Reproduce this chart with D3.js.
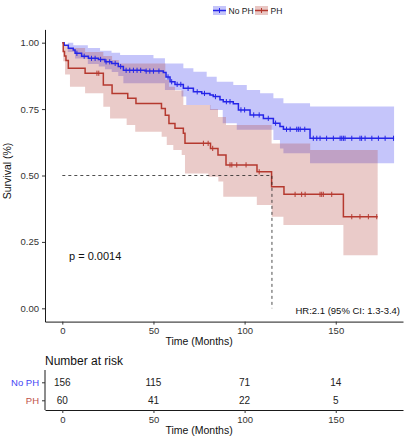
<!DOCTYPE html>
<html><head><meta charset="utf-8">
<script src="https://cdn.jsdelivr.net/npm/d3@7"></script>
<style>html,body{margin:0;padding:0;background:#fff;}svg{display:block;font-family:"Liberation Sans",Arial,sans-serif;}</style>
</head><body>
<svg id="c" width="408" height="440"></svg>
<script>
// ---------- data ----------
const groups = ["No PH", "PH"];
// No PH Kaplan-Meier steps
const noPhTime = [0,1,3.3,6,7,10.6,14.3,19.8,23.4,27.1,30.7,33.5,45.4,55.4,56.9,59.1,61.8,66.4,71.9,76.5,81,82.8,86.5,88.3,93.8,96.6,103,110.3,115.8,119.4,121.3,135.9];
const noPhSurv = [1,0.99,0.979,0.972,0.96,0.949,0.941,0.937,0.928,0.922,0.91,0.896,0.893,0.888,0.871,0.853,0.843,0.828,0.815,0.809,0.803,0.797,0.785,0.778,0.77,0.747,0.728,0.715,0.697,0.684,0.674,0.64];
const noPhEnd = 182;
const noPhCensor = [8,12,16,18,21,24,26,29,32,35,37,39,41,43,46,48,50,53,58,60,63,65,69,74,78,84,90,92,98,100,105,108,113,117,123,125,128.6,129.5,130.5,133,137.7,139.6,141.4,145,148.7,152.4,153.3,154.2,155.1,158.8,163.3,164.2,166.1,169.8,173.4,177.1,181.7];
const noPhUpperTime = [0,6,14,20.7,27,31.7,50,56.3,66.4,71.9,79.2,84.7,93.8,101.2,108.5,115.8,121.3,135.9];
const noPhUpper     = [1,0.99,0.98,0.97,0.962,0.954,0.941,0.922,0.904,0.891,0.872,0.853,0.841,0.822,0.81,0.791,0.772,0.76];
const noPhLowerTime = [0,3,7,14,20,23.4,27.1,30.7,33.5,56.3,65.4,68,81,88,95.7,115.8,119.4,121.3,135.9];
const noPhLower     = [1,0.965,0.94,0.92,0.91,0.9,0.89,0.875,0.847,0.822,0.797,0.765,0.747,0.697,0.672,0.634,0.602,0.584,0.546];

// PH Kaplan-Meier steps
const phTime = [0,0.5,1.2,2,3.3,12.5,22.5,27.3,35.9,40.4,54.4,56.5,58.5,61.8,66.4,67.3,81.3,85.4,89.8,106.8,114.8,121.6,154.2];
const phSurv = [1,0.967,0.95,0.933,0.904,0.885,0.841,0.809,0.791,0.771,0.752,0.727,0.696,0.678,0.659,0.621,0.602,0.577,0.54,0.514,0.458,0.429,0.345];
const phEnd = 173;
const phCensor = [19,20,77.4,80,82.5,92,93,95.7,100.8,108,127.7,131.3,133.2,141.4,142.3,143.2,147.8,158.8,163.3,167.9,172.5];
const phUpperTime = [0,1.5,3.3,12.5,22.5,27.3,31,56.5,58.5,61.8,66.4,81.3,85.4,89.8,114.8,136];
const phUpper     = [1,0.99,0.98,0.965,0.95,0.935,0.922,0.86,0.834,0.82,0.765,0.75,0.72,0.69,0.62,0.596];
const phLowerTime = [0,0.5,1.5,4.2,12.5,22.5,26.2,35.3,40,54.5,57.3,60.9,65.5,67.3,80.1,85.6,88.3,106.7,114.9,121.3,154.2];
const phLower     = [1,0.93,0.88,0.834,0.81,0.759,0.715,0.69,0.665,0.646,0.615,0.596,0.577,0.508,0.495,0.477,0.42,0.389,0.345,0.314,0.2];

const medianTime = 115;
const xTicks = [0,50,100,150];
const yTicks = [0,0.25,0.5,0.75,1];
const riskNoPh = [156,115,71,14];
const riskPh = [60,41,22,5];
const pText = "p = 0.0014";
const hrText = "HR:2.1 (95% CI: 1.3-3.4)";

// ---------- styles ----------
const blue = "#2525e8", red = "#b5392f";
const blueFill = "#4040f0", redFill = "#b5453c";

const svg = d3.select("#c");
const x = d3.scaleLinear().domain([-9.5,186.9]).range([45,403]);
const y = d3.scaleLinear().domain([-0.05,1.05]).range([321.6,29.4]);

function stepVal(ts, vs, t){ let v = vs[0]; for(let i=0;i<ts.length;i++){ if(ts[i]<=t) v=vs[i]; } return v; }
function bandData(ut,uv,lt,lv,end){
  const ts = Array.from(new Set([...ut,...lt,end])).sort((a,b)=>a-b);
  return ts.map(t=>({t, hi:stepVal(ut,uv,t), lo:stepVal(lt,lv,t)}));
}
const area = d3.area().curve(d3.curveStepAfter).x(d=>x(d.t)).y0(d=>y(d.lo)).y1(d=>y(d.hi));
const line = d3.line().curve(d3.curveStepAfter).x(d=>x(d[0])).y(d=>y(d[1]));

const bandNo = bandData(noPhUpperTime,noPhUpper,noPhLowerTime,noPhLower,noPhEnd);
const bandPh = bandData(phUpperTime,phUpper,phLowerTime,phLower,phEnd);
svg.append("path").attr("d",area(bandNo)).attr("fill",blueFill).attr("fill-opacity",0.3);
svg.append("path").attr("d",area(bandPh)).attr("fill",redFill).attr("fill-opacity",0.28);

function drawCurve(ts, vs, end, cens, col){
  const pts = ts.map((t,i)=>[t,vs[i]]); pts.push([end, vs[vs.length-1]]);
  svg.append("path").attr("d",line(pts)).attr("fill","none").attr("stroke",col).attr("stroke-width",1.5);
  svg.append("g").selectAll("line").data(cens).join("line")
    .attr("x1",d=>x(d)).attr("x2",d=>x(d))
    .attr("y1",d=>y(stepVal(ts,vs,d))-2.6).attr("y2",d=>y(stepVal(ts,vs,d))+2.6)
    .attr("stroke",col).attr("stroke-width",1);
}
drawCurve(noPhTime,noPhSurv,noPhEnd,noPhCensor,blue);
drawCurve(phTime,phSurv,phEnd,phCensor,red);

// median lines
svg.append("path").attr("d",`M${x(0)},${y(0.5)}H${x(medianTime)}V${y(0)}`)
  .attr("fill","none").attr("stroke","#222").attr("stroke-width",0.8).attr("stroke-dasharray","3,3");

// axes
const gy = svg.append("g").attr("transform","translate(45,0)")
  .call(d3.axisLeft(y).tickValues(yTicks).tickFormat(d3.format(".2f")).tickSize(3).tickSizeOuter(0));
const gx = svg.append("g").attr("transform","translate(0,321.6)")
  .call(d3.axisBottom(x).tickValues(xTicks).tickSize(3).tickSizeOuter(0));
[gx,gy].forEach(g=>{
  g.select(".domain").attr("stroke","#000").attr("stroke-width",0.9);
  g.selectAll(".tick line").attr("stroke","#333");
  g.selectAll(".tick text").attr("fill","#333").attr("font-size",9.5).attr("font-family","Liberation Sans,Arial,sans-serif");
});
svg.append("text").attr("x",x(75)).attr("y",345).attr("text-anchor","middle").attr("font-size",10.5).attr("fill","#111").text("Time (Months)");
svg.append("text").attr("transform","translate(11,171) rotate(-90)").attr("text-anchor","middle").attr("font-size",10.5).attr("fill","#111").text("Survival (%)");

svg.append("text").attr("x",69).attr("y",260).attr("font-size",11).attr("fill","#111").text(pText);
svg.append("text").attr("x",400).attr("y",314).attr("text-anchor","end").attr("font-size",9.5).attr("fill","#111").text(hrText);

// legend
const legCols = [blue, red], legFills = [blueFill, redFill], legX = [213, 255];
groups.forEach((g,i)=>{
  const lx = legX[i];
  svg.append("rect").attr("x",lx).attr("y",6).attr("width",13).attr("height",9).attr("fill",legFills[i]).attr("fill-opacity",0.3);
  svg.append("line").attr("x1",lx).attr("x2",lx+13).attr("y1",10.5).attr("y2",10.5).attr("stroke",legCols[i]).attr("stroke-width",1.5);
  svg.append("line").attr("x1",lx+6.5).attr("x2",lx+6.5).attr("y1",8).attr("y2",13).attr("stroke",legCols[i]).attr("stroke-width",1);
  svg.append("text").attr("x",lx+15.5).attr("y",13.5).attr("font-size",8.5).attr("fill","#222").text(g);
});

// risk table
svg.append("text").attr("x",45).attr("y",364.5).attr("font-size",12).attr("fill","#111").text("Number at risk");
const ry = d3.scalePoint().domain(groups).range([382.3,400.3]);
const gr = svg.append("g").attr("transform","translate(45,0)")
  .call(d3.axisLeft(ry).tickSize(3).tickSizeOuter(0));
gr.select(".domain").attr("d","M0,370V410").attr("stroke","#000").attr("stroke-width",0.9);
gr.selectAll(".tick line").attr("stroke","#333");
gr.selectAll(".tick text").attr("font-size",9.5).attr("fill",(d,i)=>i===0?"#4545f5":"#c0504a");
const gx2 = svg.append("g").attr("transform","translate(0,410)")
  .call(d3.axisBottom(x).tickValues(xTicks).tickSize(3).tickSizeOuter(0));
gx2.select(".domain").attr("stroke","#000").attr("stroke-width",0.9);
gx2.selectAll(".tick line").attr("stroke","#333");
gx2.selectAll(".tick text").attr("fill","#333").attr("font-size",9.5);
svg.append("text").attr("x",x(75)).attr("y",434).attr("text-anchor","middle").attr("font-size",10.5).attr("fill","#111").text("Time (Months)");
[riskNoPh, riskPh].forEach((arr,r)=>{
  svg.append("g").selectAll("text").data(arr).join("text")
    .attr("x",(d,i)=>x(xTicks[i])).attr("y",ry(groups[r])+3.5).attr("text-anchor","middle")
    .attr("font-size",10).attr("fill","#222").text(d=>d);
});
</script>
</body></html>
